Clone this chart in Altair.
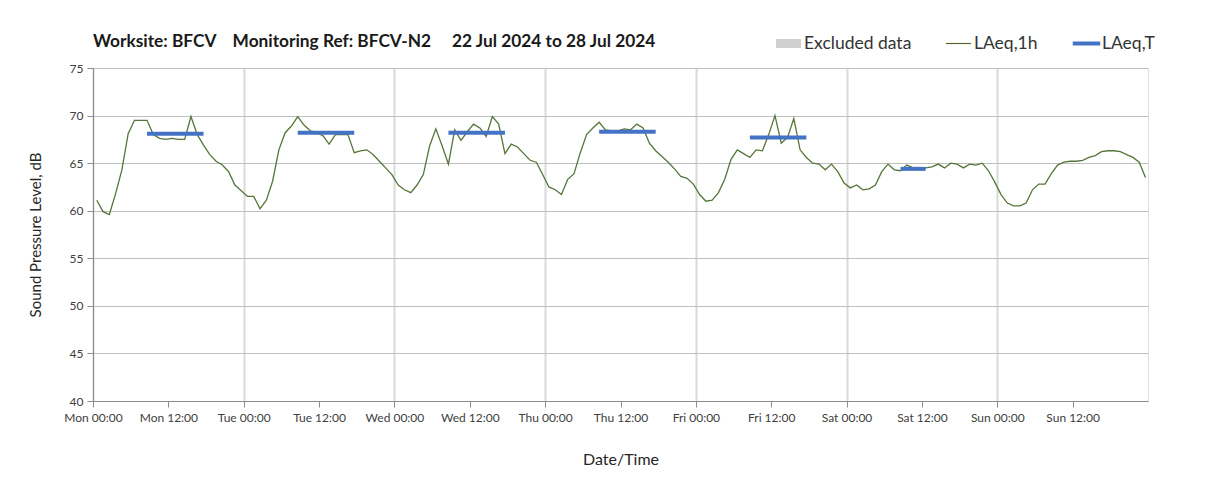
import json
import altair as alt
import pandas as pd

# ---------------- data ----------------
hours = list(range(168))
laeq_1h = [
    61.1, 59.9, 59.6, 61.8, 64.3, 68.1, 69.5, 69.5, 69.5, 68.0, 67.6, 67.5,
    67.6, 67.5, 67.5, 69.9, 68.0, 66.9, 65.9, 65.2, 64.8, 64.1, 62.7, 62.1,
    61.5, 61.5, 60.2, 61.1, 63.1, 66.4, 68.2, 68.9, 69.9, 69.0, 68.4, 68.2,
    67.9, 67.0, 68.0, 68.0, 68.0, 66.1, 66.3, 66.4, 65.9, 65.2, 64.5, 63.8,
    62.7, 62.2, 61.9, 62.7, 63.8, 66.8, 68.6, 66.8, 64.9, 68.5, 67.4, 68.3,
    69.1, 68.7, 67.8, 69.9, 69.1, 66.0, 67.0, 66.7, 66.0, 65.3, 65.1, 63.8,
    62.5, 62.2, 61.7, 63.3, 63.9, 66.1, 68.0, 68.7, 69.3, 68.5, 68.4, 68.4,
    68.6, 68.5, 69.1, 68.7, 67.1, 66.3, 65.7, 65.1, 64.4, 63.6, 63.4, 62.8,
    61.7, 61.0, 61.1, 61.9, 63.3, 65.4, 66.4, 66.0, 65.6, 66.4, 66.3, 68.0,
    70.0, 67.1, 67.7, 69.7, 66.4, 65.6, 65.0, 64.9, 64.3, 64.9, 64.1, 62.9,
    62.4, 62.7, 62.2, 62.3, 62.7, 64.1, 64.9, 64.3, 64.2, 64.8, 64.5, 64.5,
    64.5, 64.6, 64.9, 64.5, 65.0, 64.9, 64.5, 64.9, 64.8, 65.0, 64.2, 63.0,
    61.7, 60.8, 60.5, 60.5, 60.8, 62.2, 62.8, 62.8, 63.9, 64.8, 65.1, 65.2,
    65.2, 65.3, 65.6, 65.8, 66.2, 66.3, 66.3, 66.2, 65.9, 65.6, 65.1, 63.5,
]
lt_start = [8, 32, 56, 80, 104, 128]
lt_end = [17, 41, 65, 89, 113, 132]
lt_value = [68.1, 68.2, 68.2, 68.3, 67.7, 64.4]

x_tick_hours = list(range(0, 168, 12))
x_tick_labels = [
    "Mon 00:00", "Mon 12:00", "Tue 00:00", "Tue 12:00", "Wed 00:00", "Wed 12:00",
    "Thu 00:00", "Thu 12:00", "Fri 00:00", "Fri 12:00", "Sat 00:00", "Sat 12:00",
    "Sun 00:00", "Sun 12:00",
]
y_ticks = [40, 45, 50, 55, 60, 65, 70, 75]

legend_labels = ["Excluded data", "LAeq,1h", "LAeq,T"]
legend_colors = ["#D0D0D0", "#4F6228", "#4472C4"]
legend_paths = [
    "M-1,-0.36H1V0.36H-1Z",
    "M-1,-0.045H1V0.045H-1Z",
    "M-1.1,-0.16H1.1V0.16H-1.1Z",
]

title_text = ("Worksite: BFCV" + "\u00a0" * 4 + "Monitoring Ref: BFCV-N2" + "\u00a0" * 5 +
              "22 Jul 2024 to 28 Jul 2024")

FONT = "Lato"

df_1h = pd.DataFrame({"hour": hours, "laeq": laeq_1h})
df_t = pd.DataFrame({"start": lt_start, "end": lt_end, "laeq": lt_value})
df_leg = pd.DataFrame({"series": legend_labels})

label_expr = json.dumps(x_tick_labels) + "[round(datum.value / 12)]"

x_scale = alt.Scale(domain=[0, 168], nice=False, zero=False)
y_scale = alt.Scale(domain=[40, 75], nice=False, zero=False)

x_axis = alt.Axis(
    values=x_tick_hours,
    labelExpr=label_expr,
    labelOverlap=False,
    labelFlush=False,
    title="Date/Time",
    grid=True,
    gridColor="#D9D9D9",
    gridWidth=2,
    gridOpacity={"condition": {"test": "datum.value % 24 === 0", "value": 1}, "value": 0},
    domainColor="#8C8C8C",
    tickColor="#8C8C8C",
    tickSize=6,
    labelPadding=5,
    labelFont=FONT,
    labelFontSize=12,
    labelColor="#404040",
    titleFont=FONT,
    titleFontSize=16,
    titleFontWeight="normal",
    titleColor="#262626",
    titlePadding=28,
)
y_axis = alt.Axis(
    values=y_ticks,
    title="Sound Pressure Level, dB",
    grid=True,
    gridColor="#BFBFBF",
    gridWidth=1,
    domainColor="#8C8C8C",
    tickColor="#8C8C8C",
    tickSize=6,
    labelPadding=4,
    labelFont=FONT,
    labelFontSize=12,
    labelColor="#404040",
    titleFont=FONT,
    titleFontSize=15,
    titleFontWeight="normal",
    titleColor="#262626",
    titlePadding=26,
)

line_1h = alt.Chart(df_1h).transform_calculate(
    t="datum.hour + 0.6"
).mark_line(color="#55753A", strokeWidth=1.3).encode(
    x=alt.X("t:Q", scale=x_scale, axis=x_axis),
    y=alt.Y("laeq:Q", scale=y_scale, axis=y_axis),
)

rule_t = alt.Chart(df_t).transform_calculate(
    t="datum.start + 0.6", t1="datum.end + 0.6"
).mark_rule(color="#4472C4", strokeWidth=4).encode(
    x=alt.X("t:Q", scale=x_scale, axis=x_axis),
    x2="t1:Q",
    y=alt.Y("laeq:Q", scale=y_scale, axis=y_axis),
)

leg_common = dict(
    title=None,
    orient="none",
    legendX=683,
    legendY=-37,
    direction="horizontal",
    labelFont=FONT,
    labelFontSize=17.5,
    labelColor="#333333",
    symbolSize=625,
    symbolStrokeWidth=0,
    symbolOpacity=1,
    columnPadding=34,
    labelOffset=3,
    padding=0,
)

legend_layer = alt.Chart(df_leg).mark_point(filled=True, opacity=0, size=625).encode(
    color=alt.Color("series:N", scale=alt.Scale(domain=legend_labels, range=legend_colors),
                    legend=alt.Legend(**leg_common)),
    shape=alt.Shape("series:N", scale=alt.Scale(domain=legend_labels, range=legend_paths),
                    legend=alt.Legend(**leg_common)),
)

chart = alt.layer(line_1h, rule_t, legend_layer).properties(
    width=1055,
    height=333,
    title=alt.TitleParams(
        text=title_text,
        anchor="start",
        frame="group",
        font=FONT,
        fontSize=17.3,
        fontWeight="bold",
        color="#1A1A1A",
        offset=-19,
    ),
    padding={"left": 20, "top": 23, "right": 40, "bottom": 10},
).configure_view(
    stroke="#8C8C8C", strokeWidth=1
).configure(background="white")

chart.save("out.html", embed_options={"renderer": "svg", "actions": False})
